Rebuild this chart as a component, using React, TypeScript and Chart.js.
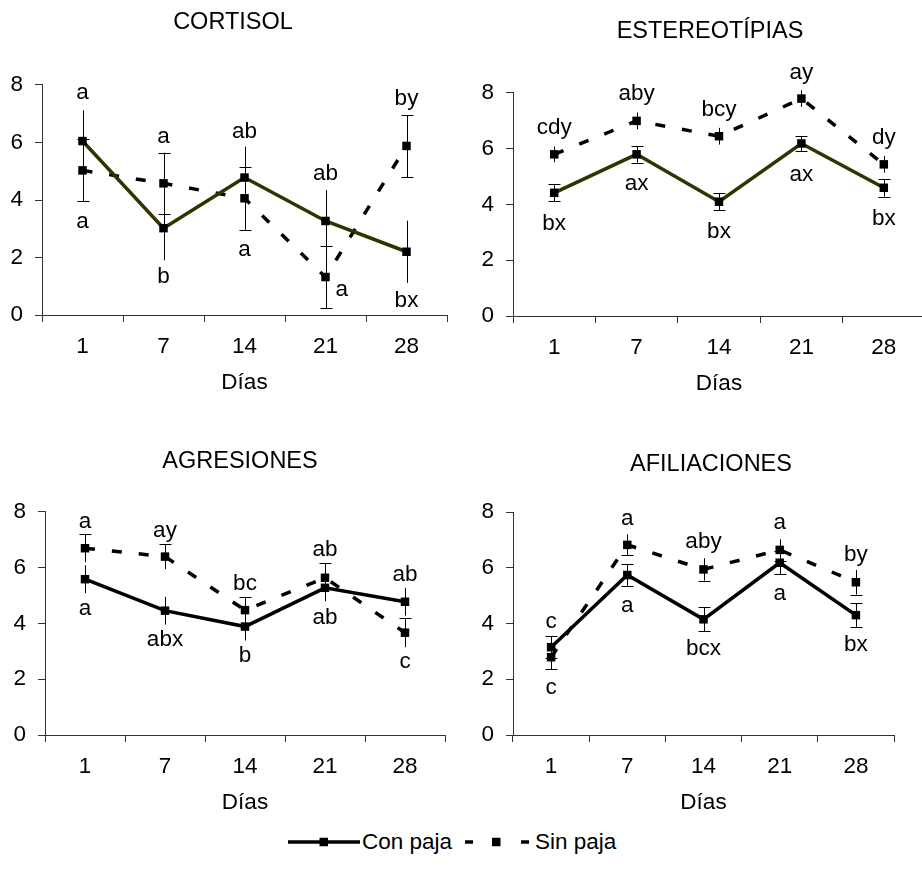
import React, { useEffect, useRef } from 'react';
import { Chart, registerables } from 'chart.js';

Chart.register(...registerables);

const DAYS = ['1', '7', '14', '21', '28'];

// CORTISOL
const CORTISOL_CON = [6.05, 3.02, 4.78, 3.27, 2.2];
const CORTISOL_CON_ERR = [1.07, 1.12, 1.08, 1.07, 1.08];
const CORTISOL_SIN = [5.03, 4.58, 4.06, 1.32, 5.88];
const CORTISOL_SIN_ERR = [1.08, 1.07, 1.1, 1.09, 1.08];
const CORTISOL_TOP = ['a', 'a', 'ab', 'ab', 'by'];
const CORTISOL_TOP_Y = [7.72, 6.19, 6.37, 4.9, 7.51];
const CORTISOL_BOTTOM = ['a', 'b', 'a', 'a', 'bx'];
const CORTISOL_BOTTOM_Y = [3.23, 1.32, 2.26, 0.87, 0.49];
const CORTISOL_BOTTOM_DX = [0, 0, 0, 0.2, 0];

// ESTEREOTÍPIAS
const ESTEREO_CON = [4.42, 5.8, 4.1, 6.19, 4.6];
const ESTEREO_CON_ERR = [0.3, 0.3, 0.3, 0.27, 0.32];
const ESTEREO_SIN = [5.8, 7.0, 6.45, 7.8, 5.44];
const ESTEREO_SIN_ERR = [0.28, 0.3, 0.3, 0.3, 0.3];
const ESTEREO_TOP = ['cdy', 'aby', 'bcy', 'ay', 'dy'];
const ESTEREO_TOP_Y = [6.75, 7.98, 7.41, 8.73, 6.4];
const ESTEREO_BOTTOM = ['bx', 'ax', 'bx', 'ax', 'bx'];
const ESTEREO_BOTTOM_Y = [3.32, 4.73, 3.02, 5.08, 3.5];

// AGRESIONES
const AGRES_CON = [5.59, 4.46, 3.89, 5.28, 4.78];
const AGRES_CON_ERR = [0.5, 0.5, 0.5, 0.48, 0.5];
const AGRES_SIN = [6.7, 6.4, 4.48, 5.64, 3.67];
const AGRES_SIN_ERR = [0.5, 0.45, 0.48, 0.52, 0.52];
const AGRES_TOP = ['a', 'ay', 'bc', 'ab', 'ab'];
const AGRES_TOP_Y = [7.65, 7.33, 5.44, 6.64, 5.76];
const AGRES_BOTTOM = ['a', 'abx', 'b', 'ab', 'c'];
const AGRES_BOTTOM_Y = [4.51, 3.41, 2.83, 4.21, 2.63];

// AFILIACIONES
const AFIL_CON = [3.15, 5.74, 4.15, 6.18, 4.3];
const AFIL_CON_ERR = [0.4, 0.4, 0.43, 0.42, 0.42];
const AFIL_SIN = [2.79, 6.82, 5.94, 6.64, 5.48];
const AFIL_SIN_ERR = [0.43, 0.38, 0.4, 0.38, 0.44];
const AFIL_TOP = ['c', 'a', 'aby', 'a', 'by'];
const AFIL_TOP_Y = [4.07, 7.75, 6.93, 7.62, 6.46];
const AFIL_BOTTOM = ['c', 'a', 'bcx', 'a', 'bx'];
const AFIL_BOTTOM_Y = [1.71, 4.63, 3.11, 5.06, 3.25];

const SERIES_NAMES = ['Con paja', 'Sin paja'];

const FONT = "'Liberation Sans', Arial, Helvetica, sans-serif";
const TXT = 22.5;
const TITLE_SIZE = 23.5;
const X_AXIS_H = 81;
const Y_AXIS_W = 36;
const AXIS = '#333';
const OLIVE = '#333300';

Chart.defaults.font.family = FONT;
Chart.defaults.color = '#000';

type Caps = 'none' | 'both' | 'top' | 'bottom';

interface Geom {
  canvasLeft: number; canvasTop: number;
  chartLeft: number; chartRight: number; chartTop: number; chartBottom: number;
  titleX: number; titleY: number;
}

interface PanelDef {
  title: string;
  con: number[]; conErr: number[]; sin: number[]; sinErr: number[];
  conColor: string; conCaps: Caps; sinCaps: Caps;
  top: string[]; topY: number[]; bottom: string[]; bottomY: number[]; bottomDx?: number[];
  geom: Geom;
}

const PANELS: PanelDef[] = [
  {
    title: 'CORTISOL', con: CORTISOL_CON, conErr: CORTISOL_CON_ERR, sin: CORTISOL_SIN, sinErr: CORTISOL_SIN_ERR,
    conColor: OLIVE, conCaps: 'none', sinCaps: 'both',
    top: CORTISOL_TOP, topY: CORTISOL_TOP_Y, bottom: CORTISOL_BOTTOM, bottomY: CORTISOL_BOTTOM_Y, bottomDx: CORTISOL_BOTTOM_DX,
    geom: { canvasLeft: 0, canvasTop: 0, chartLeft: 42, chartRight: 447, chartTop: 85, chartBottom: 315, titleX: 233, titleY: 23 },
  },
  {
    title: 'ESTEREOTÍPIAS', con: ESTEREO_CON, conErr: ESTEREO_CON_ERR, sin: ESTEREO_SIN, sinErr: ESTEREO_SIN_ERR,
    conColor: OLIVE, conCaps: 'both', sinCaps: 'none',
    top: ESTEREO_TOP, topY: ESTEREO_TOP_Y, bottom: ESTEREO_BOTTOM, bottomY: ESTEREO_BOTTOM_Y,
    geom: { canvasLeft: 460, canvasTop: 0, chartLeft: 513, chartRight: 925, chartTop: 93, chartBottom: 316, titleX: 710, titleY: 32 },
  },
  {
    title: 'AGRESIONES', con: AGRES_CON, conErr: AGRES_CON_ERR, sin: AGRES_SIN, sinErr: AGRES_SIN_ERR,
    conColor: '#000', conCaps: 'none', sinCaps: 'top',
    top: AGRES_TOP, topY: AGRES_TOP_Y, bottom: AGRES_BOTTOM, bottomY: AGRES_BOTTOM_Y,
    geom: { canvasLeft: 0, canvasTop: 420, chartLeft: 45, chartRight: 445, chartTop: 512, chartBottom: 735, titleX: 240, titleY: 462 },
  },
  {
    title: 'AFILIACIONES', con: AFIL_CON, conErr: AFIL_CON_ERR, sin: AFIL_SIN, sinErr: AFIL_SIN_ERR,
    conColor: '#000', conCaps: 'both', sinCaps: 'bottom',
    top: AFIL_TOP, topY: AFIL_TOP_Y, bottom: AFIL_BOTTOM, bottomY: AFIL_BOTTOM_Y,
    geom: { canvasLeft: 460, canvasTop: 420, chartLeft: 513, chartRight: 894, chartTop: 512, chartBottom: 735, titleX: 711, titleY: 465 },
  },
];

function computeLayout(g: Geom) {
  const cl = g.chartLeft - g.canvasLeft;
  const cr = g.chartRight - g.canvasLeft;
  const c = g.titleX - g.canvasLeft;
  const padL = Math.max(0, cl - Y_AXIS_W);
  const yW = cl - padL;
  const h = Math.max(c - padL, cr - c);
  const boxL = c - h;
  const boxR = c + h;
  const W = Math.ceil(boxR);
  const padR = W - boxR;
  const rW = Math.max(0, boxR - cr);
  return { padL: Math.max(0, boxL) === boxL ? boxL : padL, padR, yW: cl - (boxL >= 0 ? boxL : padL), rW, W };
}

function Panel({ p }: { p: PanelDef }) {
  const ref = useRef<HTMLCanvasElement | null>(null);
  const g = p.geom;
  const L = computeLayout(g);
  const W = L.W;
  const H = g.chartBottom - g.canvasTop + X_AXIS_H;

  useEffect(() => {
    const canvas = ref.current;
    if (!canvas) return;
    const { padL, padR, yW, rW } = L;
    const tlh = TITLE_SIZE * 1.2;
    const tPadTop = g.titleY - g.canvasTop - tlh / 2;
    const tPadBottom = g.chartTop - g.canvasTop - tPadTop - tlh;

    const series = [
      { vals: p.con, errs: p.conErr, caps: p.conCaps },
      { vals: p.sin, errs: p.sinErr, caps: p.sinCaps },
    ];

    const extras = {
      id: 'panelExtras',
      afterDatasetsDraw(chart: any) {
        const ctx = chart.ctx;
        const ys = chart.scales.y;
        ctx.save();
        ctx.strokeStyle = '#000';
        ctx.lineWidth = 1;
        series.forEach((s, di) => {
          const meta = chart.getDatasetMeta(di);
          s.vals.forEach((v, i) => {
            const x = Math.round(meta.data[i].x) + 0.5;
            const yt = ys.getPixelForValue(v + s.errs[i]);
            const yb = ys.getPixelForValue(v - s.errs[i]);
            ctx.beginPath();
            ctx.moveTo(x, yt);
            ctx.lineTo(x, yb);
            const cw = 6;
            if (s.caps === 'both' || s.caps === 'top') {
              const y = Math.round(yt) + 0.5;
              ctx.moveTo(x - cw, y);
              ctx.lineTo(x + cw, y);
            }
            if (s.caps === 'both' || s.caps === 'bottom') {
              const y = Math.round(yb) + 0.5;
              ctx.moveTo(x - cw, y);
              ctx.lineTo(x + cw, y);
            }
            ctx.stroke();
          });
        });
        ctx.restore();
      },
      afterDraw(chart: any) {
        const ctx = chart.ctx;
        const xs = chart.scales.x;
        const ys = chart.scales.y;
        const step = xs.getPixelForValue(1) - xs.getPixelForValue(0);
        ctx.save();
        ctx.fillStyle = '#000';
        ctx.font = `${TXT}px ${FONT}`;
        ctx.textAlign = 'center';
        ctx.textBaseline = 'middle';
        p.top.forEach((t, i) => {
          ctx.fillText(t, xs.getPixelForValue(i), ys.getPixelForValue(p.topY[i]));
        });
        p.bottom.forEach((t, i) => {
          const dx = p.bottomDx ? p.bottomDx[i] : 0;
          ctx.fillText(t, xs.getPixelForValue(i) + dx * step, ys.getPixelForValue(p.bottomY[i]));
        });
        ctx.restore();
      },
    };

    const chart = new Chart(canvas, {
      type: 'line',
      data: {
        labels: DAYS,
        datasets: [
          {
            label: SERIES_NAMES[0], data: p.con, yAxisID: 'y', xAxisID: 'x',
            borderColor: p.conColor, borderWidth: 3.5, tension: 0, fill: false,
            pointStyle: 'rect', pointRadius: 6, pointBorderWidth: 0,
            pointBackgroundColor: '#000', pointBorderColor: '#000',
          },
          {
            label: SERIES_NAMES[1], data: p.sin, yAxisID: 'y', xAxisID: 'x',
            borderColor: '#000', borderWidth: 3.5, borderDash: [10, 17], tension: 0, fill: false,
            pointStyle: 'rect', pointRadius: 6, pointBorderWidth: 0,
            pointBackgroundColor: '#000', pointBorderColor: '#000',
          },
        ],
      },
      options: {
        animation: false,
        responsive: false,
        events: [],
        layout: { padding: { left: padL, right: padR, top: 0, bottom: 0 }, autoPadding: false },
        plugins: {
          legend: { display: false },
          tooltip: { enabled: false },
          title: {
            display: true, text: p.title, color: '#000',
            font: { size: TITLE_SIZE, weight: 'normal', lineHeight: 1.2, family: FONT },
            padding: { top: tPadTop, bottom: tPadBottom },
          },
        },
        scales: {
          x: {
            type: 'category', offset: true,
            grid: { offset: true, drawOnChartArea: false, drawTicks: true, tickLength: 7, color: AXIS },
            border: { display: true, color: AXIS, width: 1 },
            ticks: { color: '#000', font: { size: TXT }, padding: 11, maxRotation: 0, autoSkip: false },
            title: { display: true, text: 'Días', color: '#000', font: { size: TXT, lineHeight: 1.2 }, padding: { top: 0, bottom: 0 } },
            afterFit: (s: any) => { s.height = X_AXIS_H; },
          },
          y: {
            type: 'linear', position: 'left', min: 0, max: 8,
            ticks: { stepSize: 2, color: '#000', font: { size: TXT }, padding: 12 },
            grid: { drawOnChartArea: false, drawTicks: true, tickLength: 7, color: AXIS },
            border: { display: true, color: AXIS, width: 1 },
            afterFit: (s: any) => { s.width = yW; },
          },
          yR: {
            type: 'linear', position: 'right', display: rW > 0,
            grid: { display: false }, border: { display: false }, ticks: { display: false },
            afterFit: (s: any) => { s.width = rW; },
          },
        },
      } as any,
      plugins: [extras],
    });
    return () => chart.destroy();
  }, []);

  return (
    <canvas
      ref={ref}
      width={W}
      height={H}
      style={{ position: 'absolute', left: g.canvasLeft, top: g.canvasTop, width: W, height: H, display: 'block' }}
    />
  );
}

function Legend() {
  const textStyle: React.CSSProperties = {
    position: 'absolute', top: 829, height: 26, lineHeight: '26px',
    fontFamily: FONT, fontSize: TXT, color: '#000', whiteSpace: 'nowrap',
  };
  return (
    <>
      <svg style={{ position: 'absolute', left: 288, top: 829 }} width={72} height={26}>
        <line x1={0} y1={13} x2={72} y2={13} stroke="#000" strokeWidth={3.5} />
        <rect x={31.5} y={8.75} width={8.5} height={8.5} fill="#000" />
      </svg>
      <span style={{ ...textStyle, left: 362 }}>{SERIES_NAMES[0]}</span>
      <svg style={{ position: 'absolute', left: 465, top: 829 }} width={64} height={26}>
        <line x1={0} y1={13} x2={8} y2={13} stroke="#000" strokeWidth={3.5} />
        <rect x={27} y={8.75} width={8.5} height={8.5} fill="#000" />
        <line x1={56} y1={13} x2={64} y2={13} stroke="#000" strokeWidth={3.5} />
      </svg>
      <span style={{ ...textStyle, left: 535 }}>{SERIES_NAMES[1]}</span>
    </>
  );
}

export default function App() {
  return (
    <div style={{ position: 'absolute', left: 0, top: 0, width: 922, height: 871, overflow: 'hidden', background: '#fff' }}>
      {PANELS.map((p) => <Panel key={p.title} p={p} />)}
      <Legend />
    </div>
  );
}
